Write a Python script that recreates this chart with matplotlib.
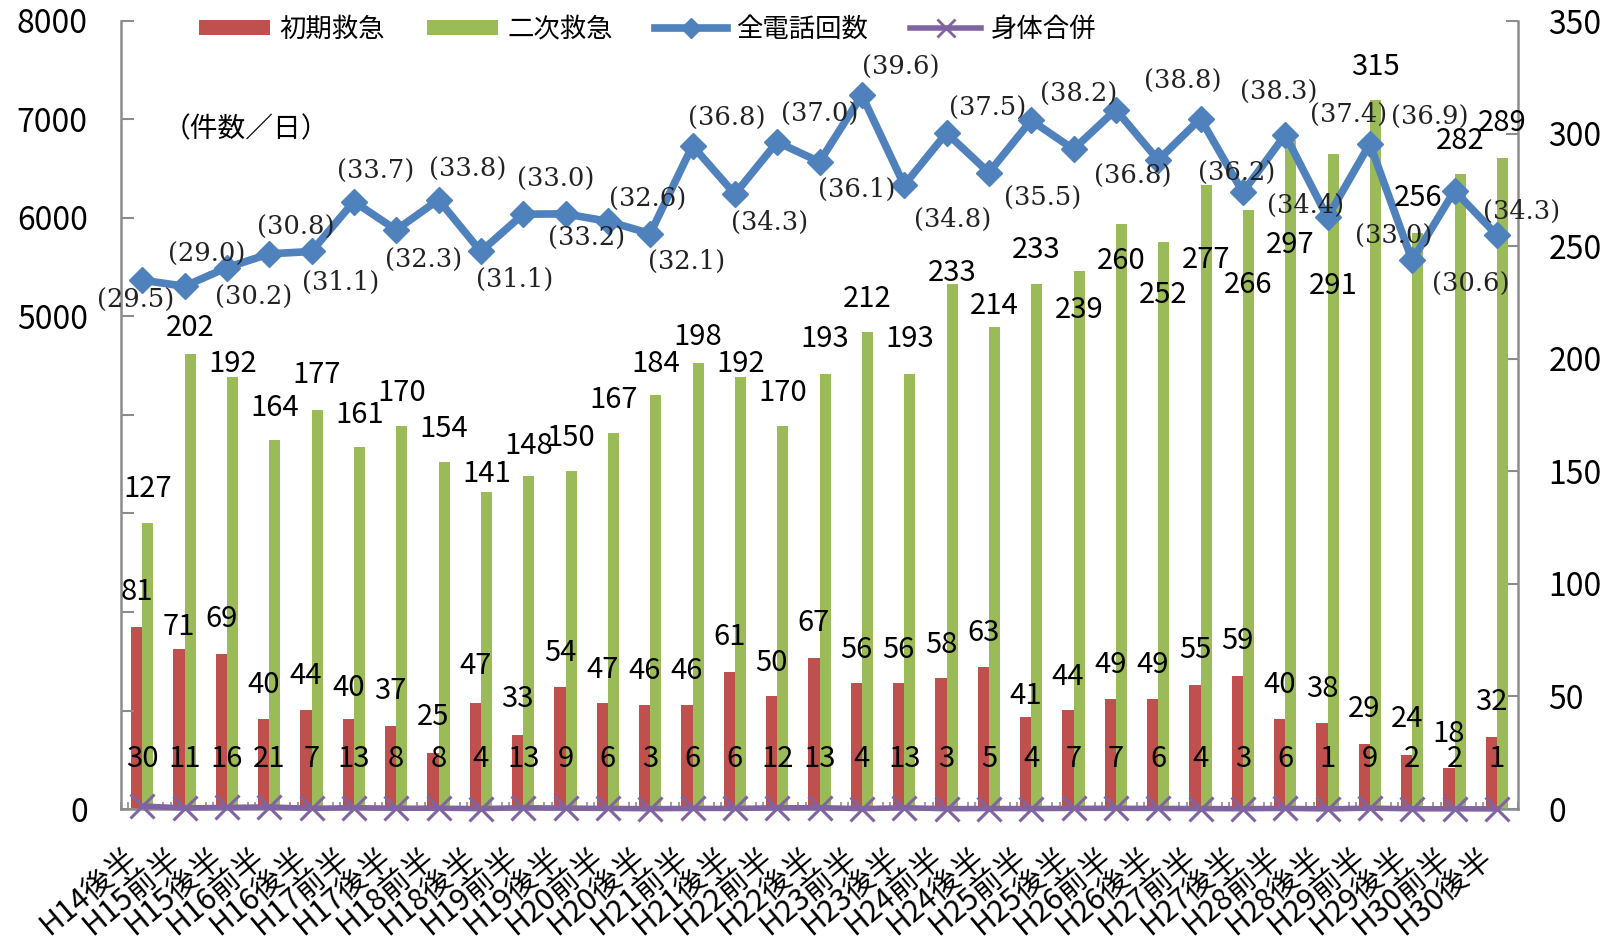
import matplotlib
matplotlib.use('Agg')
import matplotlib.pyplot as plt
from matplotlib.lines import Line2D
from matplotlib.patches import Patch
import numpy as np

plt.rcParams['font.family'] = ['Noto Sans CJK JP', 'DejaVu Sans']

# ---------------- data ----------------
categories = ['H14後半', 'H15前半', 'H15後半', 'H16前半', 'H16後半', 'H17前半', 'H17後半',
              'H18前半', 'H18後半', 'H19前半', 'H19後半', 'H20前半', 'H20後半', 'H21前半',
              'H21後半', 'H22前半', 'H22後半', 'H23前半', 'H23後半', 'H24前半', 'H24後半',
              'H25前半', 'H25後半', 'H26前半', 'H26後半', 'H27前半', 'H27後半', 'H28前半',
              'H28後半', 'H29前半', 'H29後半', 'H30前半', 'H30後半']
shoki = [81, 71, 69, 40, 44, 40, 37, 25, 47, 33, 54, 47, 46, 46, 61, 50, 67,
         56, 56, 58, 63, 41, 44, 49, 49, 55, 59, 40, 38, 29, 24, 18, 32]
niji = [127, 202, 192, 164, 177, 161, 170, 154, 141, 148, 150, 167, 184, 198, 192, 170, 193,
        212, 193, 233, 214, 233, 239, 260, 252, 277, 266, 297, 291, 315, 256, 282, 289]
total_calls = [5369, 5307, 5496, 5636, 5660, 6167, 5879, 6185, 5660, 6039, 6042, 5966, 5842,
               6734, 6243, 6771, 6570, 7247, 6334, 6863, 6461, 6991, 6698, 7100, 6588, 7009,
               6261, 6844, 6006, 6753, 5569, 6277, 5827]
per_day = [29.5, 29.0, 30.2, 30.8, 31.1, 33.7, 32.3, 33.8, 31.1, 33.0, 33.2, 32.6, 32.1, 36.8,
           34.3, 37.0, 36.1, 39.6, 34.8, 37.5, 35.5, 38.2, 36.8, 38.8, 36.2, 38.3, 34.4, 37.4,
           33.0, 36.9, 30.6, 34.3]
shintai = [30, 11, 16, 21, 7, 13, 8, 8, 4, 13, 9, 6, 3, 6, 6, 12, 13, 4, 13, 3, 5, 4, 7, 7,
           6, 4, 3, 6, 1, 9, 2, 2, 1]
left_ticklabels = ['0', '', '', '', '', '5000', '6000', '7000', '8000']
legend_labels = ['初期救急', '二次救急', '全電話回数', '身体合併']
unit_note = '（件数／日）'

# ---------------- layout / style ----------------
RED = '#C0504D'
GREEN = '#9BBB59'
BLUE = '#4F81BD'
PURPLE = '#8064A2'
GRAY = '#8C8C8C'

# label offsets (pixels) taken from the reference layout
red_lbl_dy = [37, 24, 37, 36, 36, 33, 37, 38, 39, 38, 36, 35, 36, 36, 37, 35, 37, 35, 35, 35,
              36, 23, 35, 36, 36, 37, 37, 36, 36, 37, 38, 36, 37]
green_lbl_dy = [36, 28, 15, 34, 37, 34, 35, 35, 20, 32, 35, 35, 33, 28, 15, 35, 37, 35, 37, 13,
                23, 36, -37, -35, -51, -73, -73, -103, -130, 35, 37, 35, 37]
pd_dx = [-6, 21.5, 25.5, 25.5, 28.5, 21.5, 26.5, 28.5, 32.5, 31.5, 20.5, 38.5, 35.5, 33.5,
         33.5, 41.5, 36.5, 37.5, 46.5, 39.5, 52.5, 45.5, 57, 65, 76, 76, 61, 61, 64, 58, 57, 65]
pd_dy = [20, -31, 29, -26, 30, -29, 30, -29, 27, -34, 24, -21, 27, -26, 27, -27, 27, -27, 33,
         -24, 25, -25, 26, -27, 13, -25, 12.5, -20, 18, -26, 23, 20]

W, H = 1619, 947
PX2PT = 0.72
fig = plt.figure(figsize=(W / 100, H / 100), dpi=100)
L, R, B, T = 121, 1518, 809, 21
ax = fig.add_axes([L / W, 1 - B / H, (R - L) / W, (B - T) / H])
axl = ax.twinx()

x = np.arange(len(categories))
bw = 0.26
ax.bar(x - bw / 2, shoki, bw, color=RED, zorder=2)
ax.bar(x + bw / 2, niji, bw, color=GREEN, zorder=2)
ax.set_xlim(-0.5, len(categories) - 0.5)
ax.set_ylim(0, 350)
axl.set_ylim(0, 8000)

axl.plot(x, total_calls, color=BLUE, lw=5.5, marker='D', ms=13, zorder=3)
axl.plot(x, shintai, color=PURPLE, lw=4, marker='x', ms=17, mew=2.2, zorder=4, clip_on=False)

# axes styling
ax.yaxis.tick_right()
ax.set_yticks(np.arange(0, 351, 50))
ax.tick_params(axis='y', direction='in', length=9, width=1.5, color=GRAY, labelsize=23, pad=22)
axl.yaxis.tick_left()
axl.set_yticks(np.arange(0, 8001, 1000))
axl.set_yticklabels(left_ticklabels)
axl.tick_params(axis='y', direction='in', length=9, width=1.5, color=GRAY, labelsize=23, pad=24)

ax.set_xticks(np.arange(-0.5, len(categories), 1))
ax.set_xticks(np.arange(-0.5, len(categories) - 1, 1) + 0.17, minor=True)
ax.set_xticklabels([])
ax.tick_params(axis='x', which='both', direction='in', length=5, width=1.2, color=GRAY)

for s in ['left', 'right', 'bottom']:
    ax.spines[s].set_color(GRAY)
    ax.spines[s].set_linewidth(1.8)
ax.spines['top'].set_visible(False)
for s in axl.spines.values():
    s.set_visible(False)

# category labels
for i, lbl in enumerate(categories):
    axl.annotate(lbl, xy=(i, 0), xycoords=('data', 'axes fraction'),
                 xytext=(-18 * PX2PT, -33 * PX2PT), textcoords='offset points',
                 rotation=40, ha='right', va='top', rotation_mode='anchor',
                 fontsize=22, annotation_clip=False)

# bar labels
for i in range(len(categories)):
    axl.annotate(str(shoki[i]), xy=(i - bw / 2, shoki[i]), xycoords=ax.transData,
                 xytext=(0, (red_lbl_dy[i] - 2) * PX2PT), textcoords='offset points',
                 ha='center', va='center', fontsize=21, zorder=6)
    axl.annotate(str(niji[i]), xy=(i + bw / 2, niji[i]), xycoords=ax.transData,
                 xytext=(0, (green_lbl_dy[i] - 2) * PX2PT), textcoords='offset points',
                 ha='center', va='center', fontsize=21, zorder=6)
    axl.annotate(str(shintai[i]), xy=(i, 0.066), xycoords=('data', 'axes fraction'),
                 xytext=(0, -2 * PX2PT), textcoords='offset points',
                 ha='center', va='center', fontsize=21, zorder=6)

# per-day labels
SH = 1.0325 * PX2PT
for i, v in enumerate(per_day):
    axl.annotate(f'({v:.1f})', xy=(i, total_calls[i]), xycoords='data',
                 xytext=(pd_dx[i] * SH, -pd_dy[i] * SH), textcoords='offset points',
                 ha='center', va='center', fontsize=18.5, family='DejaVu Serif',
                 color='#222222', zorder=7, annotation_clip=False)

fig.text(246 / W, 1 - 129 / H, unit_note, fontsize=20, ha='center', va='center')

handles = [Patch(facecolor=RED), Patch(facecolor=GREEN),
           Line2D([], [], color=BLUE, lw=5.5, marker='D', ms=10),
           Line2D([], [], color=PURPLE, lw=4, marker='x', ms=13, mew=2)]
fig.legend(handles, legend_labels, loc='center left', bbox_to_anchor=(199 / W, 1 - 29 / H),
           ncol=4, frameon=False, fontsize=19, handlelength=2.7, handleheight=0.5,
           handletextpad=0.35, columnspacing=1.6, borderpad=0, borderaxespad=0)

fig.savefig('out.png', dpi=100)
